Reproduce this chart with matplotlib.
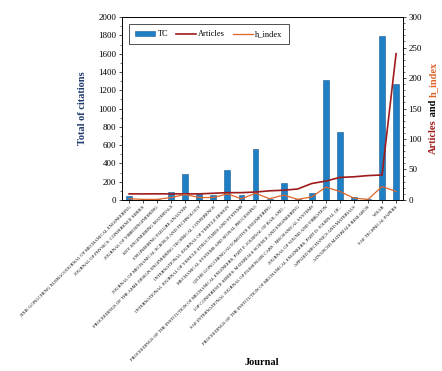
import numpy as np
import matplotlib
matplotlib.use('Agg')
import matplotlib.pyplot as plt
from matplotlib.ticker import MultipleLocator

plt.rcParams['font.family'] = ['Liberation Serif', 'DejaVu Serif']

# Datos
journals = [
    'JIXIE GONGCHENG XUEBAO/JOURNAL OF MECHANICAL ENGINEERING',
    'JOURNAL OF PHYSICS: CONFERENCE SERIES',
    'JOURNAL OF VIBROENGINEERING',
    'KEY ENGINEERING MATERIALS',
    'ENGINEERING FAILURE ANALYSIS',
    'JOURNAL OF MECHANICAL SCIENCE AND TECHNOLOGY',
    'PROCEEDINGS OF THE ASME DESIGN ENGINEERING TECHNICAL CONFERENCE',
    'INTERNATIONAL JOURNAL OF VEHICLE DESIGN',
    'INTERNATIONAL JOURNAL OF VEHICLE STRUCTURES AND SYSTEMS',
    'MECHANICAL SYSTEMS AND SIGNAL PROCESSING',
    'QICHE GONGCHENG/AUTOMOTIVE ENGINEERING',
    'PROCEEDINGS OF THE INSTITUTION OF MECHANICAL ENGINEERS, PART F: JOURNAL OF RAIL AND...',
    'IOP CONFERENCE SERIES: MATERIALS SCIENCE AND ENGINEERING',
    'SAE INTERNATIONAL JOURNAL OF PASSENGER CARS - MECHANICAL SYSTEMS',
    'JOURNAL OF SOUND AND VIBRATION',
    'PROCEEDINGS OF THE INSTITUTION OF MECHANICAL ENGINEERS, PART D: JOURNAL OF...',
    'APPLIED MECHANICS AND MATERIALS',
    'ADVANCED MATERIALS RESEARCH',
    'WEAR',
    'SAE TECHNICAL PAPERS',
]
tc = [42, 8, 6, 82, 288, 62, 58, 330, 55, 555, 10, 186, 6, 76, 1310, 745, 33, 8, 1795, 1265]
articles = [10, 10, 10, 10, 10, 10, 11, 12, 12, 13, 15, 16, 18, 27, 31, 37, 38, 40, 41, 240]
h_index = [2, 1, 1, 4, 9, 4, 4, 10, 2, 11, 2, 8, 1, 5, 21, 14, 3, 1, 22, 14]

x = np.arange(len(journals))

fig = plt.figure(figsize=(4.42, 3.71), dpi=100)
ax = fig.add_axes([0.276, 0.461, 0.636, 0.493])
ax2 = ax.twinx()

bars = ax.bar(x, tc, width=0.42, color='#1f7fc4', edgecolor='#1a5a90', linewidth=0.4, label='TC')
l1, = ax2.plot(x, articles, color='#9e1b1b', linewidth=1.2, label='Articles')
l2, = ax2.plot(x, h_index, color='#e0642a', linewidth=0.9, label='h_index')

ax.set_xlim(-0.5, len(journals) - 0.5)
ax.set_ylim(0, 2000)
ax2.set_ylim(0, 300)
ax.yaxis.set_major_locator(MultipleLocator(200))
ax.yaxis.set_minor_locator(MultipleLocator(100))
ax2.yaxis.set_major_locator(MultipleLocator(50))
ax2.yaxis.set_minor_locator(MultipleLocator(10))

ax.set_xticks(x)
ax.set_xticklabels(journals, rotation=45, ha='right', rotation_mode='anchor', fontsize=3.3)
ax.tick_params(axis='x', length=2, width=0.5, pad=1.5)
ax.tick_params(axis='y', labelsize=6.5, length=2.5, width=0.5, pad=1.5)
ax.tick_params(axis='y', which='minor', length=1.5, width=0.4)
ax2.tick_params(axis='y', labelsize=6.5, length=2.5, width=0.5, pad=1.5)
ax2.tick_params(axis='y', which='minor', length=1.5, width=0.4)
for a in (ax, ax2):
    for s in a.spines.values():
        s.set_linewidth(0.6)

ax.set_ylabel('Total of citations', fontsize=7.5, fontweight='bold', color='#1f3a6e', labelpad=8)
fig.text(0.593, 0.012, 'Journal', fontsize=7.5, fontweight='bold', ha='center', va='bottom')

leg = ax.legend(handles=[bars, l1, l2], loc='upper left', ncol=3, fontsize=6,
                frameon=True, fancybox=False, edgecolor='black', handlelength=2.4,
                handleheight=0.5, columnspacing=0.9, handletextpad=0.3, borderpad=0.75,
                bbox_to_anchor=(0.01, 0.985))
leg.get_frame().set_linewidth(0.6)

# Etiqueta derecha con colores por palabra
fig.canvas.draw()
renderer = fig.canvas.get_renderer()
parts = [('Articles', '#9e1b1b'), (' and ', 'black'), ('h_index', '#e0642a')]
txts = []
for s, c in parts:
    t = fig.text(0, 0, s, rotation=90, fontsize=7.5, fontweight='bold', color=c,
                 ha='center', va='bottom')
    txts.append(t)
heights = [t.get_window_extent(renderer).height for t in txts]
total = sum(heights)
y0 = 108 / 371 * fig.bbox.height
y_start = fig.bbox.height - y0 - total / 2
xr = 433 / 442
for t, h in zip(txts, heights):
    t.set_position((xr, y_start / fig.bbox.height))
    y_start += h

fig.savefig('out.png', dpi=100)
